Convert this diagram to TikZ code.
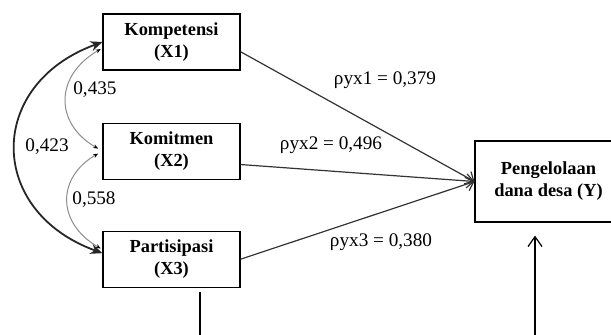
\documentclass[tikz,border=0pt]{standalone}
\usepackage{fontspec}
\setmainfont{Liberation Serif}
\usetikzlibrary{arrows.meta,positioning}

\begin{document}
\begin{tikzpicture}
	[x=0.5pt, y=0.5pt, inner sep=0pt,
	variabel/.style	= {draw, rectangle, line width=0.55pt, minimum width=68.5pt, minimum height=28pt, align=center, font=\fontsize{9.2}{11}\selectfont\bfseries},
	koef/.style		= {font=\fontsize{9.6}{11}\selectfont},
	jalur/.style	= {draw=black!80, line width=0.6pt, -{Straight Barb[length=3.5pt, width=7pt]}},
	korelasi/.style	= {draw=black!85, line width=0.9pt, {Stealth[length=6pt, width=5pt]}-{Stealth[length=6pt, width=5pt]}},
	korgrey/.style	= {draw=black!45, line width=0.5pt, {Stealth[length=2.5pt, width=2pt, black]}-{Stealth[length=2.5pt, width=2pt, black]}}]

	\useasboundingbox (0,0) rectangle (611,-334);
	\clip (0,0) rectangle (611,-334);

	% variabel bebas
	\node [variabel]	at (171.5,-42)				(X1)	{Kompetensi\\(X1)};
	\node [variabel]	[below = 26pt of X1]		(X2)	{Komitmen\\(X2)};
	\node [variabel]	[below = 25.5pt of X2]		(X3)	{Partisipasi\\(X3)};
	% variabel terikat
	\node [variabel, minimum width=73.5pt, minimum height=40.5pt]
						at (548.5,-181.5)			(Y)		{Pengelolaan\\dana desa (Y)};

	% jalur
	\draw [jalur]	(X1.-8)		-- (Y.west);
	\draw [jalur]	(X2.-11)	-- (Y.west);
	\draw [jalur]	(X3.east)	-- (Y.west);

	% korelasi
	\draw [korgrey, shorten <=1pt, shorten >=2.5pt]	(X1.185) to [out=210, in=150, looseness=1.38] (X2.west);
	\draw [korgrey, shorten <=2.5pt, shorten >=1pt]	(X2.west) to [out=210, in=150, looseness=1.38] (X3.172);
	\draw [korelasi]	(X1.west) to [out=200, in=160, looseness=1.5] (X3.175);

	% koefisien
	\node [koef]	at (95,-90)		(r12)	{0,435};
	\node [koef]	at (47,-147)	(r13)	{0,423};
	\node [koef]	at (94,-200)	(r23)	{0,558};
	\node [koef]	at (385,-80)	(p1)	{ρyx1 = 0,379};
	\node [koef]	at (331,-145)	(p2)	{ρyx2 = 0,496};
	\node [koef]	at (381,-242)	(p3)	{ρyx3 = 0,380};

	% residu
	\coordinate (e1) at (200,-340);
	\coordinate (e2) at (535,-340);
	\draw [line width=0.6pt, shorten <=2pt]	(X3.south -| e1) -- (e1);
	\draw [line width=0.6pt, shorten >=6.5pt, -{Straight Barb[length=5pt, width=7pt]}]	(e2) -- (e2 |- Y.south);
\end{tikzpicture}
\end{document}
